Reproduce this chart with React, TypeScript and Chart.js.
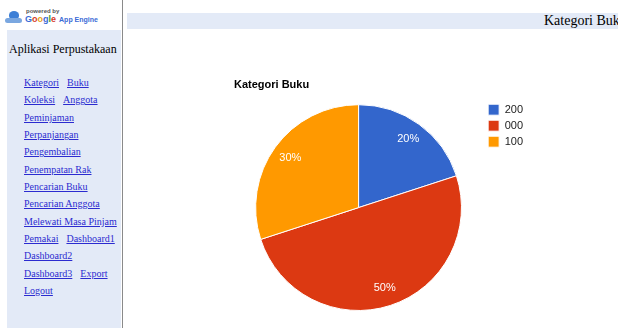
import React, { useEffect, useRef } from "react";
import { Chart, registerables } from "chart.js";

Chart.register(...registerables);

const categories = ["200", "000", "100"];
const values = [20, 50, 30];
const colors = ["#3366cc", "#dc3912", "#ff9900"];
const chartTitle = "Kategori Buku";
const menuRows = [
  ["Kategori", "Buku"],
  ["Koleksi", "Anggota"],
  ["Peminjaman"],
  ["Perpanjangan"],
  ["Pengembalian"],
  ["Penempatan Rak"],
  ["Pencarian Buku"],
  ["Pencarian Anggota"],
  ["Melewati Masa Pinjam"],
  ["Pemakai", "Dashboard1"],
  ["Dashboard2"],
  ["Dashboard3", "Export"],
  ["Logout"],
];

const sliceLabels = {
  id: "sliceLabels",
  afterDatasetsDraw(chart: any) {
    const ctx = chart.ctx;
    const meta = chart.getDatasetMeta(0);
    const data = chart.data.datasets[0].data as number[];
    const total = data.reduce((a, b) => a + b, 0);
    ctx.save();
    ctx.fillStyle = "#ffffff";
    ctx.font = "11px Arial, 'Liberation Sans', sans-serif";
    ctx.textAlign = "center";
    ctx.textBaseline = "middle";
    meta.data.forEach((arc: any, i: number) => {
      const mid = (arc.startAngle + arc.endAngle) / 2;
      const r = arc.outerRadius * 0.82;
      const x = arc.x + Math.cos(mid) * r;
      const y = arc.y + Math.sin(mid) * r;
      ctx.fillText(Math.round((data[i] / total) * 100) + "%", x, y);
    });
    ctx.restore();
  },
};

function PieChart() {
  const ref = useRef<HTMLCanvasElement>(null);
  useEffect(() => {
    const chart = new Chart(ref.current!, {
      type: "pie",
      data: {
        labels: categories,
        datasets: [
          {
            data: values,
            backgroundColor: colors,
            borderColor: "#ffffff",
            borderWidth: 1,
          },
        ],
      },
      options: {
        animation: false,
        responsive: false,
        maintainAspectRatio: false,
        layout: { padding: { right: 85 } },
        plugins: {
          title: {
            display: true,
            text: chartTitle,
            align: "start",
            color: "#000000",
            font: { family: "Arial, 'Liberation Sans', sans-serif", size: 11, weight: "bold" },
            padding: { top: 8, bottom: 13 },
          },
          legend: {
            position: "right",
            align: "start",
            title: {
              display: true,
              text: "",
              font: { size: 11 },
              padding: { top: 16, bottom: 0 },
            },
            labels: {
              boxWidth: 11,
              boxHeight: 11,
              padding: 5,
              color: "#222222",
              font: { family: "Arial, 'Liberation Sans', sans-serif", size: 11 },
            },
          },
          tooltip: { enabled: false },
        },
      },
      plugins: [sliceLabels],
    });
    return () => chart.destroy();
  }, []);
  return (
    <canvas
      ref={ref}
      width={384}
      height={241}
      style={{ position: "absolute", left: 234, top: 70, width: 384, height: 241 }}
    />
  );
}

export default function App() {
  const linkStyle: React.CSSProperties = {
    color: "#2b2bd0",
    textDecoration: "underline",
    marginRight: 8,
  };
  return (
    <div
      style={{
        position: "fixed",
        left: 0,
        top: 0,
        width: 618,
        height: 328,
        overflow: "hidden",
        background: "#ffffff",
        fontFamily: "'Liberation Serif', 'Times New Roman', serif",
      }}
    >
      {/* logo */}
      <div style={{ position: "absolute", left: 5, top: 10, width: 17, height: 14 }}>
        <div style={{ position: "absolute", left: 4, top: 1, width: 10, height: 8, borderRadius: "50% 50% 40% 40%", background: "#3d7fd6" }} />
        <div style={{ position: "absolute", left: 0, top: 8, width: 17, height: 5, borderRadius: 3, background: "#7aa7e0" }} />
      </div>
      <div style={{ position: "absolute", left: 26, top: 8, fontSize: 6, fontWeight: "bold", color: "#555", fontFamily: "Arial, sans-serif", lineHeight: "7px" }}>
        powered by
      </div>
      <div style={{ position: "absolute", left: 25, top: 14, fontSize: 9, fontWeight: "bold", fontFamily: "Arial, sans-serif", lineHeight: "11px", whiteSpace: "nowrap" }}>
        <span style={{ color: "#3b6bd6" }}>G</span>
        <span style={{ color: "#d63b2b" }}>o</span>
        <span style={{ color: "#e8a317" }}>o</span>
        <span style={{ color: "#3b6bd6" }}>g</span>
        <span style={{ color: "#3a9a3a" }}>l</span>
        <span style={{ color: "#d63b2b" }}>e</span>
        <span style={{ color: "#3b6bd6", fontSize: 7, marginLeft: 3 }}>App Engine</span>
      </div>

      {/* sidebar */}
      <div style={{ position: "absolute", left: 7, top: 30, width: 114, height: 298, background: "#e3eaf7" }} />
      <div style={{ position: "absolute", left: 122, top: 0, width: 1, height: 328, background: "#8a8a8a" }} />
      <div style={{ position: "absolute", left: 9, top: 42, fontSize: 12, color: "#000", whiteSpace: "nowrap" }}>
        Aplikasi Perpustakaan
      </div>
      <div style={{ position: "absolute", left: 24, top: 76 }}>
        {menuRows.map((row, i) => (
          <div key={i} style={{ height: 17.33, fontSize: 10, lineHeight: "14px", whiteSpace: "nowrap" }}>
            {row.map((t, j) => (
              <a key={j} href="#" style={linkStyle}>
                {t}
              </a>
            ))}
          </div>
        ))}
      </div>

      {/* header bar */}
      <div style={{ position: "absolute", left: 127, top: 13, width: 491, height: 16, background: "#e3eaf7" }} />
      <div style={{ position: "absolute", left: 544, top: 13, fontSize: 14, lineHeight: "16px", color: "#000", whiteSpace: "nowrap" }}>
        {chartTitle}
      </div>

      <PieChart />
    </div>
  );
}
